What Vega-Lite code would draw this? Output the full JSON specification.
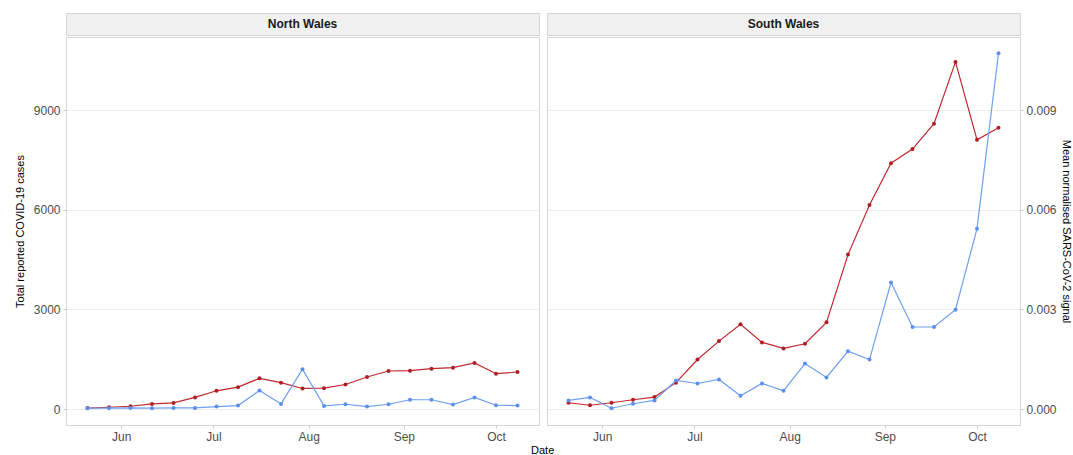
{
  "$schema": "https://vega.github.io/schema/vega-lite/v6.json",
  "padding": {"top": 12, "left": 13, "right": 0, "bottom": 0},
  "background": "white",
  "config": {
    "font": "Liberation Sans",
    "view": {"stroke": "#d4d4d4"},
    "axis": {"labelFont": "Liberation Sans", "titleFont": "Liberation Sans", "labelColor": "#4d4d4d", "labelFontSize": 12, "titleFontSize": 11, "titleFontWeight": "normal", "titleColor": "#000000", "tickColor": "#c8c8c8", "tickSize": 3, "domain": false, "gridColor": "#ececec", "gridWidth": 1}
  },
  "datasets": {
    "wales": [
      {"region": "North Wales", "date": "2020-05-21", "cases": 30, "signal": 0.000025},
      {"region": "North Wales", "date": "2020-05-28", "cases": 55, "signal": 0.000025},
      {"region": "North Wales", "date": "2020-06-04", "cases": 85, "signal": 0.000035},
      {"region": "North Wales", "date": "2020-06-11", "cases": 155, "signal": 0.000025},
      {"region": "North Wales", "date": "2020-06-18", "cases": 185, "signal": 0.000035},
      {"region": "North Wales", "date": "2020-06-25", "cases": 350, "signal": 0.000035},
      {"region": "North Wales", "date": "2020-07-02", "cases": 550, "signal": 0.000075},
      {"region": "North Wales", "date": "2020-07-09", "cases": 660, "signal": 0.000105},
      {"region": "North Wales", "date": "2020-07-16", "cases": 925, "signal": 0.00056},
      {"region": "North Wales", "date": "2020-07-23", "cases": 795, "signal": 0.000155},
      {"region": "North Wales", "date": "2020-07-30", "cases": 620, "signal": 0.0012},
      {"region": "North Wales", "date": "2020-08-06", "cases": 630, "signal": 0.000095},
      {"region": "North Wales", "date": "2020-08-13", "cases": 740, "signal": 0.000145},
      {"region": "North Wales", "date": "2020-08-20", "cases": 965, "signal": 0.000075},
      {"region": "North Wales", "date": "2020-08-27", "cases": 1145, "signal": 0.000145},
      {"region": "North Wales", "date": "2020-09-03", "cases": 1155, "signal": 0.00028},
      {"region": "North Wales", "date": "2020-09-10", "cases": 1215, "signal": 0.00028},
      {"region": "North Wales", "date": "2020-09-17", "cases": 1245, "signal": 0.000135},
      {"region": "North Wales", "date": "2020-09-24", "cases": 1390, "signal": 0.00035},
      {"region": "North Wales", "date": "2020-10-01", "cases": 1065, "signal": 0.000115},
      {"region": "North Wales", "date": "2020-10-08", "cases": 1115, "signal": 0.000105},
      {"region": "South Wales", "date": "2020-05-21", "cases": 190, "signal": 0.00026},
      {"region": "South Wales", "date": "2020-05-28", "cases": 115, "signal": 0.00035},
      {"region": "South Wales", "date": "2020-06-04", "cases": 190, "signal": 0.000025},
      {"region": "South Wales", "date": "2020-06-11", "cases": 280, "signal": 0.00016},
      {"region": "South Wales", "date": "2020-06-18", "cases": 360, "signal": 0.00026},
      {"region": "South Wales", "date": "2020-06-25", "cases": 795, "signal": 0.00086},
      {"region": "South Wales", "date": "2020-07-02", "cases": 1490, "signal": 0.00077},
      {"region": "South Wales", "date": "2020-07-09", "cases": 2045, "signal": 0.00089},
      {"region": "South Wales", "date": "2020-07-16", "cases": 2550, "signal": 0.0004},
      {"region": "South Wales", "date": "2020-07-23", "cases": 2005, "signal": 0.00077},
      {"region": "South Wales", "date": "2020-07-30", "cases": 1825, "signal": 0.00055},
      {"region": "South Wales", "date": "2020-08-06", "cases": 1965, "signal": 0.00137},
      {"region": "South Wales", "date": "2020-08-13", "cases": 2610, "signal": 0.00095},
      {"region": "South Wales", "date": "2020-08-20", "cases": 4650, "signal": 0.00174},
      {"region": "South Wales", "date": "2020-08-27", "cases": 6145, "signal": 0.00149},
      {"region": "South Wales", "date": "2020-09-03", "cases": 7400, "signal": 0.00381},
      {"region": "South Wales", "date": "2020-09-10", "cases": 7825, "signal": 0.00247},
      {"region": "South Wales", "date": "2020-09-17", "cases": 8590, "signal": 0.00247},
      {"region": "South Wales", "date": "2020-09-24", "cases": 10450, "signal": 0.00299},
      {"region": "South Wales", "date": "2020-10-01", "cases": 8105, "signal": 0.00543},
      {"region": "South Wales", "date": "2020-10-08", "cases": 8470, "signal": 0.01071}
    ]
  },
  "title": {"text": "Date", "orient": "bottom", "anchor": "middle", "fontSize": 11, "fontWeight": "normal", "font": "Liberation Sans", "color": "#000000", "offset": 2},
  "spacing": 6,
  "hconcat": [
    {
      "spacing": 0,
      "vconcat": [
        {
          "width": 473, "height": 22,
          "view": {"fill": "#f0f0f0", "stroke": "#d4d4d4"},
          "data": {"values": [{"label": "North Wales"}]},
          "mark": {"type": "text", "fontWeight": "bold", "fontSize": 12, "font": "Liberation Sans", "color": "#1a1a1a"},
          "encoding": {"text": {"field": "label"}}
        },
        {
          "width": 473, "height": 388,
          "data": {"name": "wales"},
          "transform": [{"filter": {"field": "region", "equal": "North Wales"}}],
          "resolve": {"scale": {"y": "independent"}},
          "layer": [
            {
              "mark": {"type": "line", "color": "#c0282d", "strokeWidth": 1.2, "point": {"filled": true, "size": 16, "color": "#b01e23"}},
              "encoding": {
                "x": {"field": "date", "type": "temporal", "scale": {"type": "utc", "domain": [{"year": 2020, "month": 5, "date": 14, "utc": true}, {"year": 2020, "month": 10, "date": 15, "utc": true}]}, "axis": {"title": null, "format": "%b", "grid": false, "values": [{"year": 2020, "month": 6, "date": 1, "utc": true}, {"year": 2020, "month": 7, "date": 1, "utc": true}, {"year": 2020, "month": 8, "date": 1, "utc": true}, {"year": 2020, "month": 9, "date": 1, "utc": true}, {"year": 2020, "month": 10, "date": 1, "utc": true}], "labelPadding": 3}},
                "y": {"field": "cases", "type": "quantitative", "scale": {"domain": [-480, 11200], "nice": false, "zero": false}, "axis": {"title": "Total reported COVID-19 cases", "values": [0, 3000, 6000, 9000], "format": "d", "titlePadding": 8, "labelPadding": 3}}
              }
            },
            {
              "mark": {"type": "line", "color": "#6d9ff0", "strokeWidth": 1.2, "point": {"filled": true, "size": 16, "color": "#5b8fec"}},
              "encoding": {
                "x": {"field": "date", "type": "temporal"},
                "y": {"field": "signal", "type": "quantitative", "scale": {"domain": [-0.00048, 0.0112], "nice": false, "zero": false}, "axis": null}
              }
            }
          ]
        }
      ]
    },
    {
      "spacing": 0,
      "vconcat": [
        {
          "width": 473, "height": 22,
          "view": {"fill": "#f0f0f0", "stroke": "#d4d4d4"},
          "data": {"values": [{"label": "South Wales"}]},
          "mark": {"type": "text", "fontWeight": "bold", "fontSize": 12, "font": "Liberation Sans", "color": "#1a1a1a"},
          "encoding": {"text": {"field": "label"}}
        },
        {
          "width": 473, "height": 388,
          "data": {"name": "wales"},
          "transform": [{"filter": {"field": "region", "equal": "South Wales"}}],
          "resolve": {"scale": {"y": "independent"}},
          "layer": [
            {
              "mark": {"type": "line", "color": "#c0282d", "strokeWidth": 1.2, "point": {"filled": true, "size": 16, "color": "#b01e23"}},
              "encoding": {
                "x": {"field": "date", "type": "temporal", "scale": {"type": "utc", "domain": [{"year": 2020, "month": 5, "date": 14, "utc": true}, {"year": 2020, "month": 10, "date": 15, "utc": true}]}, "axis": {"title": null, "format": "%b", "grid": false, "values": [{"year": 2020, "month": 6, "date": 1, "utc": true}, {"year": 2020, "month": 7, "date": 1, "utc": true}, {"year": 2020, "month": 8, "date": 1, "utc": true}, {"year": 2020, "month": 9, "date": 1, "utc": true}, {"year": 2020, "month": 10, "date": 1, "utc": true}], "labelPadding": 3}},
                "y": {"field": "cases", "type": "quantitative", "scale": {"domain": [-480, 11200], "nice": false, "zero": false}, "axis": {"title": null, "values": [0, 3000, 6000, 9000], "labels": false, "ticks": false}}
              }
            },
            {
              "mark": {"type": "line", "color": "#6d9ff0", "strokeWidth": 1.2, "point": {"filled": true, "size": 16, "color": "#5b8fec"}},
              "encoding": {
                "x": {"field": "date", "type": "temporal"},
                "y": {"field": "signal", "type": "quantitative", "scale": {"domain": [-0.00048, 0.0112], "nice": false, "zero": false}, "axis": {"orient": "right", "title": "Mean normalised SARS-CoV-2 signal", "values": [0, 0.003, 0.006, 0.009], "format": ".3f", "grid": false, "titlePadding": 4, "labelPadding": 3}}
              }
            }
          ]
        }
      ]
    }
  ]
}
